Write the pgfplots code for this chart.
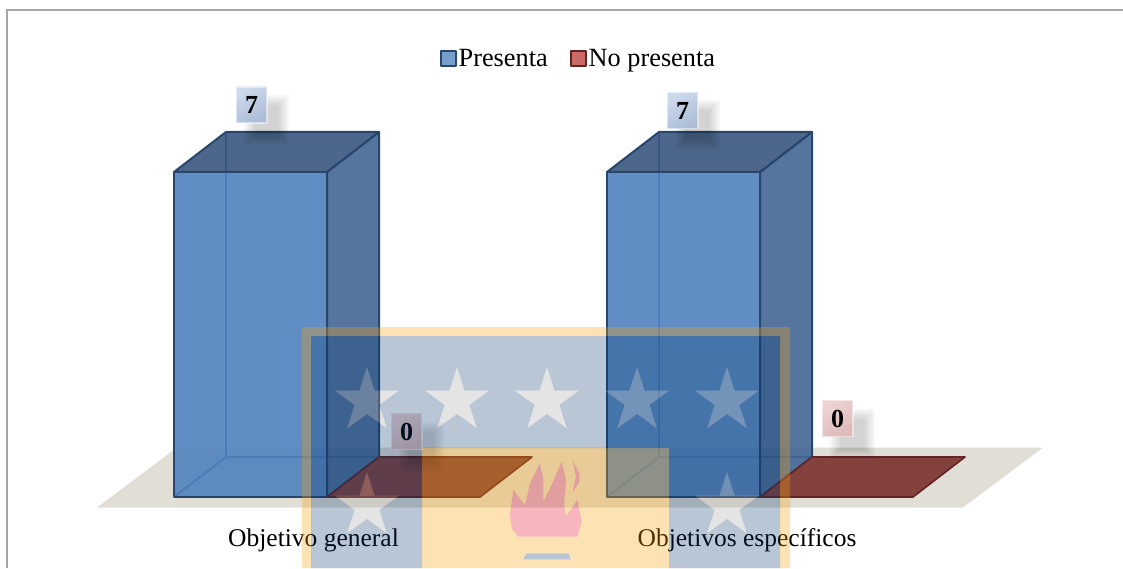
\documentclass[border=0pt]{standalone}
\usepackage{pgfplots}
\usepackage{fontspec}
\setmainfont{Liberation Serif}
\pgfplotsset{compat=1.18}

\definecolor{barblue}{RGB}{79,129,189}
\definecolor{barside}{RGB}{66,102,149}
\definecolor{bartop}{RGB}{58,86,127}
\definecolor{baredge}{RGB}{40,70,108}
\definecolor{barinner}{RGB}{45,85,135}
\definecolor{redtop}{RGB}{128,58,54}
\definecolor{rededge}{RGB}{99,36,35}
\definecolor{floorcol}{RGB}{225,222,214}
\definecolor{wmorange}{RGB}{248,161,13}
\definecolor{wmnavy}{RGB}{0,51,107}
\definecolor{wmstar}{RGB}{162,162,162}
\definecolor{wmred}{RGB}{228,3,31}
\definecolor{lblblueA}{RGB}{205,218,236}
\definecolor{lblblueB}{RGB}{172,188,214}
\definecolor{lblredA}{RGB}{238,210,210}
\definecolor{lblredB}{RGB}{222,186,186}

% 5 point star, y runs down in the overlay scope
\newcommand\starat[2]{
  ([shift={(#1,#2)}]0,-34) -- ([shift={(#1,#2)}]7.6,-10.5) -- ([shift={(#1,#2)}]32.3,-10.5)
  -- ([shift={(#1,#2)}]12.4,4) -- ([shift={(#1,#2)}]20,27.5) -- ([shift={(#1,#2)}]0,13)
  -- ([shift={(#1,#2)}]-20,27.5) -- ([shift={(#1,#2)}]-12.4,4) -- ([shift={(#1,#2)}]-32.3,-10.5)
  -- ([shift={(#1,#2)}]-7.6,-10.5) -- cycle
}
\newcommand\allstars{
  \starat{367}{401} \starat{457}{401} \starat{547}{401} \starat{637}{401} \starat{727}{401}
  \starat{367}{506} \starat{727}{506}
}
\newcommand\bluepoly{
  (311,336) -- (780,336) -- (780,568) -- (669,568) -- (669,448) -- (422,448) -- (422,568) -- (311,568) -- cycle
}
\newcommand\flame{
  (510,515) -- (513.3,490) -- (525,505) -- (530,483.3) -- (540,463.3) -- (543.3,480) -- (543.3,501.7)
  -- (551.7,485) -- (561.7,461.7) -- (566,480) -- (564,503.3) -- (566,516.7) -- (577.3,500)
  -- (581.7,521.7) -- (577.3,536.7) -- (518.3,536.7) -- (511.7,528.3) -- cycle
  (572.7,460.7) -- (579.3,473.3) -- (579.3,481.7) -- (572.7,492.7) -- (576,476.7) -- cycle
}
\newcommand\flamebase{
  (523.3,559.3) -- (526.7,553.3) -- (568.3,553.3) -- (571,559.3) -- cycle
}
% value label with soft shadow: x, y (centre), text, two tints
\newcommand\vallabel[5]{
  \foreach \d in {7,5,3,1,-1,-3}
    \fill[black,opacity=0.03] (#1+15-15.5-\d,#2+15-18-\d) rectangle (#1+15+15.5+\d,#2+15+18+\d);
  \shade[top color=#4,bottom color=#5,shading angle=30,draw=white,draw opacity=0.5,line width=1.2pt]
    (#1-15.5,#2-18) rectangle (#1+15.5,#2+18);
  \node[font=\fontsize{26}{26}\selectfont\bfseries,text=black] at (#1,#2) {#3};
}

\begin{document}
\begin{tikzpicture}
\path[use as bounding box] (0,0) rectangle (1123pt,568pt);
\begin{axis}[
  at={(0,0)},anchor=south west,
  scale only axis,width=1123pt,height=568pt,
  xmin=0,xmax=1123,ymin=-1.529,ymax=10.704,
  axis line style={draw=none},
  ytick=\empty,
  xtick={313.5,747},
  xticklabels={Objetivo general,Objetivos específicos},
  major tick length=0pt,
  x tick label style={font=\fontsize{25.5}{26}\selectfont,anchor=center,yshift=28pt},
  legend style={draw=none,fill=none,at={(0.5150,0.896)},anchor=center,
    font=\fontsize{26.3}{27}\selectfont,legend columns=2,
    /tikz/every even column/.append style={column sep=20pt}},
  legend cell align=left,
  every axis plot/.append style={line join=round},
  clip=false,
]
% floor
\addplot[forget plot,fill=floorcol,draw=none] coordinates {(97,-0.226) (963,-0.226) (1043,1.066) (177,1.066)} -- cycle;

% Presenta, Objetivo general = 7
\addplot[forget plot,barinner,line width=2pt] coordinates {(174,0) (226,0.8615) (379,0.8615)};
\addplot[forget plot,barinner,line width=2pt] coordinates {(226,0.8615) (226,7.8615)};
\addplot[forget plot,fill=barside,fill opacity=0.9,draw=baredge,line width=2pt] coordinates {(327,0) (379,0.8615) (379,7.8615) (327,7)} -- cycle;
\addplot[forget plot,fill=bartop,fill opacity=0.9,draw=baredge,line width=2pt] coordinates {(174,7) (226,7.8615) (379,7.8615) (327,7)} -- cycle;
\addplot[fill=barblue,fill opacity=0.9,draw=baredge,line width=2pt,
  legend image code/.code={\draw[fill=barblue!85!white,draw=baredge,line width=2pt] (0pt,-7pt) rectangle (15pt,8pt);}]
  coordinates {(174,0) (327,0) (327,7) (174,7)} -- cycle;
\addlegendentry{Presenta}

% No presenta, Objetivo general = 0
\addplot[fill=redtop,fill opacity=0.95,draw=rededge,line width=1.6pt,
  legend image code/.code={\draw[fill={rgb,255:red,198;green,98;blue,95},draw=rededge,line width=2pt] (0pt,-7pt) rectangle (15pt,8pt);}]
  coordinates {(327,0) (480,0) (532,0.8615) (379,0.8615)} -- cycle;
\addlegendentry{No presenta}

% Presenta, Objetivos especificos = 7
\addplot[forget plot,barinner,line width=2pt] coordinates {(607,0) (659,0.8615) (812,0.8615)};
\addplot[forget plot,barinner,line width=2pt] coordinates {(659,0.8615) (659,7.8615)};
\addplot[forget plot,fill=barside,fill opacity=0.9,draw=baredge,line width=2pt] coordinates {(760,0) (812,0.8615) (812,7.8615) (760,7)} -- cycle;
\addplot[forget plot,fill=bartop,fill opacity=0.9,draw=baredge,line width=2pt] coordinates {(607,7) (659,7.8615) (812,7.8615) (760,7)} -- cycle;
\addplot[forget plot,fill=barblue,fill opacity=0.9,draw=baredge,line width=2pt] coordinates {(607,0) (760,0) (760,7) (607,7)} -- cycle;

% No presenta, Objetivos especificos = 0
\addplot[forget plot,fill=redtop,fill opacity=0.95,draw=rededge,line width=1.6pt] coordinates {(760,0) (913,0) (965,0.8615) (812,0.8615)} -- cycle;
\end{axis}

% overlay in pixel coordinates, y down
\begin{scope}[x=1pt,y=-1pt,yshift=568pt]
  \draw[gray!70,line width=2pt] (6.5,568) -- (6.5,10.5) -- (1123,10.5);

  \vallabel{251.5}{105}{7}{lblblueA}{lblblueB}
  \vallabel{682.5}{110.5}{7}{lblblueA}{lblblueB}
  \vallabel{406.5}{431.5}{0}{lblredA}{lblredB}
  \vallabel{837.5}{418.5}{0}{lblredA}{lblredB}

  % university watermark over everything
  \fill[wmorange,opacity=0.31,even odd rule] (302,327) rectangle (790,568) \bluepoly \flame \flamebase;
  \fill[wmnavy,opacity=0.28,even odd rule] \bluepoly \allstars;
  \fill[wmstar,opacity=0.29] \allstars;
  \fill[wmred,opacity=0.29] \flame;
  \fill[wmnavy,opacity=0.28] \flamebase;
\end{scope}
\end{tikzpicture}
\end{document}
